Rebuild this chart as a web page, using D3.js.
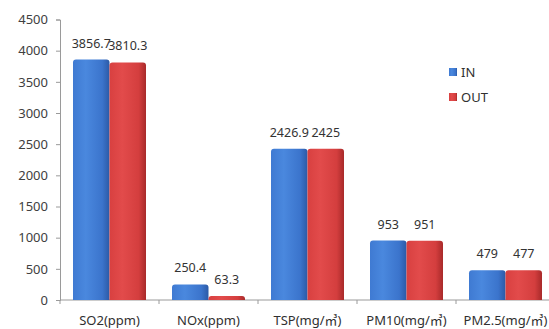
<!DOCTYPE html>
<html><head><meta charset="utf-8">
<script src="https://cdn.jsdelivr.net/npm/d3@7/dist/d3.min.js"></script>
<style>body{margin:0;background:#fff}svg{display:block}</style>
</head><body>
<script>
const categories = ["SO2(ppm)", "NOx(ppm)", "TSP(mg/㎥)", "PM10(mg/㎥)", "PM2.5(mg/㎥)"];
const seriesNames = ["IN", "OUT"];
const inValues = [3856.7, 250.4, 2426.9, 953, 479];
const outValues = [3810.3, 63.3, 2425, 951, 477];
const valueLabels = [["3856.7","3810.3"],["250.4","63.3"],["2426.9","2425"],["953","951"],["479","477"]];
const yTicks = [0,500,1000,1500,2000,2500,3000,3500,4000,4500];

(function(){
const W = 549, H = 329;
const svg = d3.select("body").append("svg").attr("width", W).attr("height", H);
const font = "'Noto Sans', 'Noto Sans CJK KR', sans-serif";

const defs = svg.append("defs");
function grad(id, stops){
  const g = defs.append("linearGradient").attr("id", id).attr("x1","0").attr("x2","1").attr("y1","0").attr("y2","0");
  stops.forEach(s => g.append("stop").attr("offset", s[0]).attr("stop-color", s[1]));
}
grad("gIn", [[0,"#3f7ad2"],[0.35,"#4a88de"],[0.8,"#3b74cc"],[1,"#2c5aa6"]]);
grad("gOut", [[0,"#d84040"],[0.35,"#e24b4b"],[0.8,"#d43e3e"],[1,"#a82a2a"]]);
const fills = ["url(#gIn)", "url(#gOut)"];

const mLeft = 60, mBottom = 300, mTop = 19.5;
const x0 = d3.scaleBand().domain(categories).range([mLeft, mLeft + 99*5]).padding(0);
const x1 = d3.scaleBand().domain(seriesNames).range([13, 86]).padding(0);
const y = d3.scaleLinear().domain([0, 4500]).range([mBottom, mTop]);

// y axis
const yAxis = d3.axisLeft(y).tickValues(yTicks).tickSize(4).tickPadding(8).tickFormat(d3.format("d"));
const ya = svg.append("g").attr("transform", `translate(${mLeft},0)`).call(yAxis);
ya.select(".domain").attr("stroke", "#9a9a9a");
ya.selectAll(".tick line").attr("stroke", "#9a9a9a");
ya.selectAll(".tick text").attr("font-family", font).attr("font-size", 13).attr("fill", "#404040");

// x axis
const xa = svg.append("g").attr("transform", `translate(0,${mBottom})`);
xa.append("line").attr("x1", mLeft).attr("x2", W).attr("y1", 0).attr("y2", 0).attr("stroke", "#9a9a9a");
const bounds = categories.map(c => x0(c)).concat([x0(categories[categories.length-1]) + x0.bandwidth()]);
xa.selectAll("line.t").data(bounds).join("line").attr("class","t")
  .attr("x1", d => d).attr("x2", d => d).attr("y1", 0).attr("y2", 4).attr("stroke", "#9a9a9a");
xa.selectAll("text").data(categories).join("text")
  .attr("x", d => x0(d) + x0.bandwidth()/2).attr("y", 25)
  .attr("text-anchor", "middle").attr("font-family", font).attr("font-size", 13).attr("fill", "#303030")
  .text(d => d);

// bars
const data = categories.map((c, i) => ({c, vals: [inValues[i], outValues[i]], labels: valueLabels[i]}));
function barPath(x, yy, w, h, r){
  r = Math.min(r, h);
  return `M${x},${yy+h}V${yy+r}Q${x},${yy} ${x+r},${yy}H${x+w-r}Q${x+w},${yy} ${x+w},${yy+r}V${yy+h}Z`;
}
const g = svg.append("g");
data.forEach(d => {
  seriesNames.forEach((s, j) => {
    const bx = x0(d.c) + x1(s), bw = x1.bandwidth();
    const by = y(d.vals[j]);
    g.append("path").attr("d", barPath(bx, by, bw, mBottom - by, 3)).attr("fill", fills[j]);
    g.append("text").attr("x", bx + bw/2).attr("y", by - 12)
      .attr("text-anchor", "middle").attr("font-family", font).attr("font-size", 12.5).attr("fill", "#333")
      .text(d.labels[j]);
  });
});

// legend
const lg = svg.append("g").attr("transform", "translate(449,68)");
seriesNames.forEach((s, i) => {
  const row = lg.append("g").attr("transform", `translate(0,${i*25})`);
  row.append("rect").attr("width", 8).attr("height", 8).attr("fill", fills[i]);
  row.append("text").attr("x", 12).attr("y", 8.5).attr("font-family", font).attr("font-size", 13)
    .attr("fill", "#303030").text(s);
});
})();
</script>
</body></html>
